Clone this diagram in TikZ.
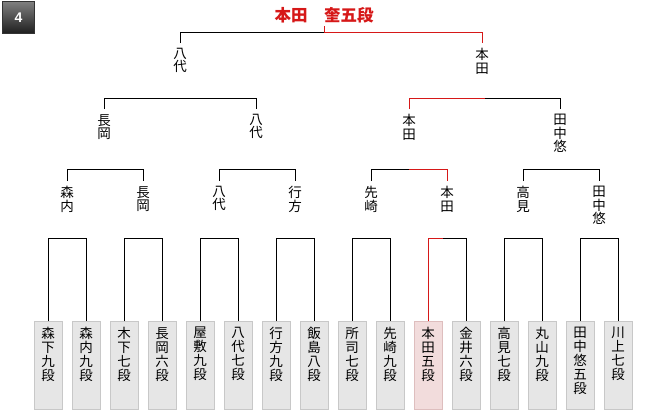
\documentclass[tikz,border=0pt]{standalone}
\usepackage{fontspec}
\usetikzlibrary{calc}
\newfontfamily\cjk{Noto Sans CJK JP}
\setsansfont{Liberation Sans}
\definecolor{winred}{RGB}{214,24,24}
\definecolor{boxfill}{RGB}{230,230,230}
\definecolor{boxline}{RGB}{200,200,200}
\definecolor{pinkfill}{RGB}{242,220,220}
\definecolor{pinkline}{RGB}{222,190,190}
\tikzset{
  player/.style={draw=boxline, fill=boxfill, line width=0.8pt, minimum width=28pt, minimum height=88pt, inner sep=0pt, anchor=north},
  winner/.style={player, draw=pinkline, fill=pinkfill},
  vname/.style={font=\cjk\fontsize{13.5}{14}\selectfont, align=center, inner sep=0pt, anchor=north},
  vlabel/.style={font=\cjk\fontsize{13.5}{13.5}\selectfont, align=center, inner sep=0pt, anchor=north},
  ln/.style={line width=0.9pt, black},
  rl/.style={line width=0.9pt, winred},
}
\begin{document}
\begin{tikzpicture}[x=1pt,y=-1pt]
\useasboundingbox (0,0) rectangle (660,410);
\coordinate (y4) at (0,238);
% badge
\shade[top color=black!50, bottom color=black!88, draw=black!80, line width=0.8pt] (2.5,1.5) rectangle (34.5,33.5);
\node[font=\sffamily\bfseries\fontsize{14}{14}\selectfont, text=white] (badge) at (18.5,18) {4};
% title
\node[font=\cjk\bfseries\fontsize{16.5}{17}\selectfont, text=winred, anchor=center] (title) at (324,15.5) {本田　奎五段};
% players
\foreach \i/\x/\t/\s in {
  p1/48/{森\\下\\九\\段}/player, p2/86/{森\\内\\九\\段}/player,
  p3/124/{木\\下\\七\\段}/player, p4/162/{長\\岡\\六\\段}/player,
  p5/200/{屋\\敷\\九\\段}/player, p6/238/{八\\代\\七\\段}/player,
  p7/276/{行\\方\\九\\段}/player, p8/314/{飯\\島\\八\\段}/player,
  p9/352/{所\\司\\七\\段}/player, p10/390/{先\\崎\\九\\段}/player,
  p11/428/{本\\田\\五\\段}/winner, p12/466/{金\\井\\六\\段}/player,
  p13/504/{高\\見\\七\\段}/player, p14/542/{丸\\山\\九\\段}/player,
  p15/580/{田\\中\\悠\\五\\段}/player, p16/618/{川\\上\\七\\段}/player} {
  \node[\s] (\i) at (\x,321) {};
  \node[vname] (\i t) at (\x,327) {\t};
}
% level 4 brackets (y=238)
\foreach \a/\b in {p1/p2,p3/p4,p5/p6,p7/p8,p9/p10,p13/p14,p15/p16} {
  \draw[ln] (\a.north) -- (\a.north |- y4) -| (\b.north);
}
\coordinate (m11) at (443,238);
\draw[rl] (p11.north) -- (p11.north |- y4) -- (m11);
\draw[ln] (m11) -| (p12.north);
% level 3 labels
\foreach \n/\x/\t in {q1/67/{森\\内}, q2/143/{長\\岡}, q3/219/{八\\代}, q4/295/{行\\方},
  q5/371/{先\\崎}, q6/447/{本\\田}, q7/523/{高\\見}, q8/599/{田\\中\\悠}} {
  \node[vlabel] (\n) at (\x,186) {\t};
  \coordinate (\n c) at (\x,181);
}
\foreach \a/\b in {q1/q2,q3/q4,q7/q8} {
  \draw[ln] (\a c) -- ++(0,-12) -| (\b c);
}
\coordinate (m6) at (409,169);
\draw[ln] (q5c) -- ++(0,-12) -- (m6);
\draw[rl] (m6) -| (q6c);
% level 2 labels
\foreach \n/\x/\t in {r1/104/{長\\岡}, r2/256/{八\\代}, r3/409/{本\\田}, r4/560/{田\\中\\悠}} {
  \node[vlabel] (\n) at (\x,114) {\t};
  \coordinate (\n c) at (\x,109);
}
\draw[ln] (r1c) -- ++(0,-11) -| (r2c);
\coordinate (m3) at (485,98);
\draw[rl] (r3c) -- ++(0,-11) -- (m3);
\draw[ln] (m3) -| (r4c);
% level 1 labels
\node[vlabel] (s1) at (180,48) {八\\代};
\node[vlabel] (s2) at (482,48) {本\\田};
\coordinate (s1c) at (180,43);
\coordinate (s2c) at (482,43);
\coordinate (top) at (324,32);
\coordinate (tj) at (324,26);
\draw[ln] (s1c) |- (top);
\draw[rl] (top) -| (s2c);
\draw[rl] (tj) -- (top);
\end{tikzpicture}
\end{document}
